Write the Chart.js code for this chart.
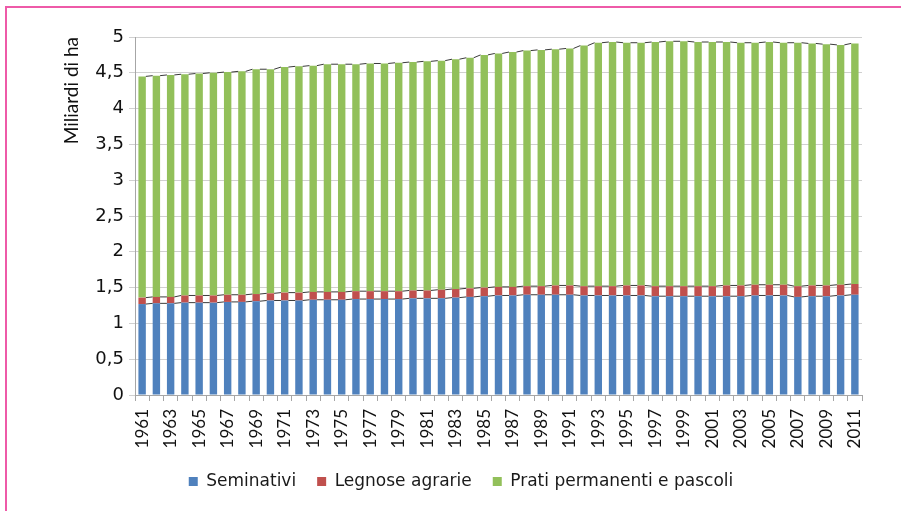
<!DOCTYPE html>
<html>
<head>
<meta charset="utf-8">
<script src="https://cdn.jsdelivr.net/npm/chart.js@4/dist/chart.umd.min.js"></script>
<style>
  html, body { margin: 0; padding: 0; background: #fff; }
  #wrap { position: relative; width: 901px; height: 511px; }
  #frame { position: absolute; left: 5px; top: 6px; right: -10px; bottom: -10px;
           border-left: 2px solid #ee5aa8; border-top: 2px solid #ee5aa8; }
  canvas { position: absolute; left: 0; top: 0; }
</style>
</head>
<body>
<div id="wrap">
  <div id="frame"></div>
  <canvas id="chartCanvas" width="901" height="511"></canvas>
</div>
<script>
// anni 1961-2011
const years = ['1961','1962','1963','1964','1965','1966','1967','1968','1969','1970',
  '1971','1972','1973','1974','1975','1976','1977','1978','1979','1980',
  '1981','1982','1983','1984','1985','1986','1987','1988','1989','1990',
  '1991','1992','1993','1994','1995','1996','1997','1998','1999','2000',
  '2001','2002','2003','2004','2005','2006','2007','2008','2009','2010','2011'];

// miliardi di ha
const seminativi = [1.27,1.28,1.28,1.29,1.29,1.29,1.30,1.30,1.31,1.32,
  1.32,1.32,1.33,1.33,1.33,1.34,1.34,1.34,1.34,1.35,
  1.35,1.35,1.36,1.37,1.38,1.39,1.39,1.40,1.40,1.40,
  1.40,1.39,1.39,1.39,1.39,1.39,1.38,1.38,1.38,1.38,
  1.38,1.38,1.38,1.39,1.39,1.39,1.37,1.38,1.38,1.39,1.40];

const legnose = [0.09,0.09,0.09,0.10,0.10,0.10,0.10,0.10,0.10,0.10,
  0.11,0.11,0.11,0.11,0.11,0.11,0.11,0.11,0.11,0.11,
  0.11,0.12,0.12,0.12,0.12,0.12,0.12,0.12,0.12,0.13,
  0.13,0.13,0.13,0.13,0.14,0.14,0.14,0.14,0.14,0.14,
  0.14,0.15,0.15,0.15,0.15,0.15,0.15,0.15,0.15,0.15,0.15];

const prati = [3.09,3.09,3.10,3.09,3.10,3.11,3.11,3.12,3.14,3.13,
  3.15,3.16,3.16,3.18,3.18,3.17,3.18,3.18,3.19,3.19,
  3.20,3.20,3.21,3.22,3.25,3.26,3.28,3.29,3.30,3.30,
  3.31,3.36,3.40,3.41,3.39,3.39,3.41,3.42,3.42,3.41,
  3.41,3.40,3.39,3.38,3.39,3.38,3.40,3.38,3.37,3.35,3.36];

const yTicks = [0, 0.5, 1, 1.5, 2, 2.5, 3, 3.5, 4, 4.5, 5];

const fontName = 'Lato, "Open Sans", sans-serif';
const wideFont = '"DejaVu Sans", sans-serif';

// linee di serie tra le barre (stile Excel)
const seriesLines = {
    id: 'seriesLines',
    afterDatasetsDraw(chart) {
        const ctx = chart.ctx;
        ctx.save();
        ctx.strokeStyle = '#3a3a3a';
        ctx.lineWidth = 1;
        chart.data.datasets.forEach((ds, i) => {
            const meta = chart.getDatasetMeta(i);
            for (let j = 0; j < meta.data.length - 1; j++) {
                const a = meta.data[j];
                const b = meta.data[j + 1];
                ctx.beginPath();
                ctx.moveTo(a.x + a.width / 2, a.y);
                ctx.lineTo(b.x - b.width / 2, b.y);
                ctx.stroke();
            }
        });
        ctx.restore();
    }
};

const chartData = {
    labels: years,
    datasets: [
        { label: 'Seminativi', data: seminativi, backgroundColor: '#4f81bd' },
        { label: 'Legnose agrarie', data: legnose, backgroundColor: '#c0504d' },
        { label: 'Prati permanenti e pascoli', data: prati, backgroundColor: '#92c05a' }
    ]
};

const chartOptions = {
    responsive: false,
    animation: false,
    datasets: { bar: { barPercentage: 0.52, categoryPercentage: 1 } },
    layout: { padding: { left: 60, right: 39, top: 37, bottom: 11 } },
    plugins: {
        tooltip: { enabled: false },
        legend: {
            position: 'bottom',
            labels: {
                boxWidth: 9, boxHeight: 9, padding: 21,
                color: '#1a1a1a', font: { family: wideFont, size: 17 }
            }
        }
    },
    scales: {
        x: {
            stacked: true,
            afterFit: (scale) => { scale.height = 57; },
            grid: { offset: true, drawOnChartArea: false, drawTicks: true, tickLength: 6, color: '#a6a6a6' },
            border: { color: '#a6a6a6' },
            ticks: {
                autoSkip: false, minRotation: 90, maxRotation: 90, padding: 8,
                color: '#111', font: { family: fontName, size: 17 },
                callback: (v, i) => (i % 2 === 0 ? years[i] : '')
            }
        },
        y: {
            stacked: true,
            min: 0, max: 5,
            afterFit: (scale) => { scale.width = 75; },
            afterBuildTicks: (scale) => { scale.ticks = yTicks.map((v) => ({ value: v })); },
            grid: { color: '#d0d0d0', tickLength: 6 },
            border: { color: '#a6a6a6' },
            title: {
                display: true, text: 'Miliardi di ha', align: 'end',
                color: '#111', font: { family: fontName, size: 19 }, padding: { top: 0, bottom: 0 }
            },
            ticks: {
                padding: 5, color: '#111', font: { family: wideFont, size: 18 },
                callback: (v) => String(v).replace('.', ',')
            }
        }
    }
};

const ctx = document.getElementById('chartCanvas').getContext('2d');
new Chart(ctx, {
    type: 'bar',
    data: chartData,
    options: chartOptions,
    plugins: [seriesLines]
});
</script>
</body>
</html>
